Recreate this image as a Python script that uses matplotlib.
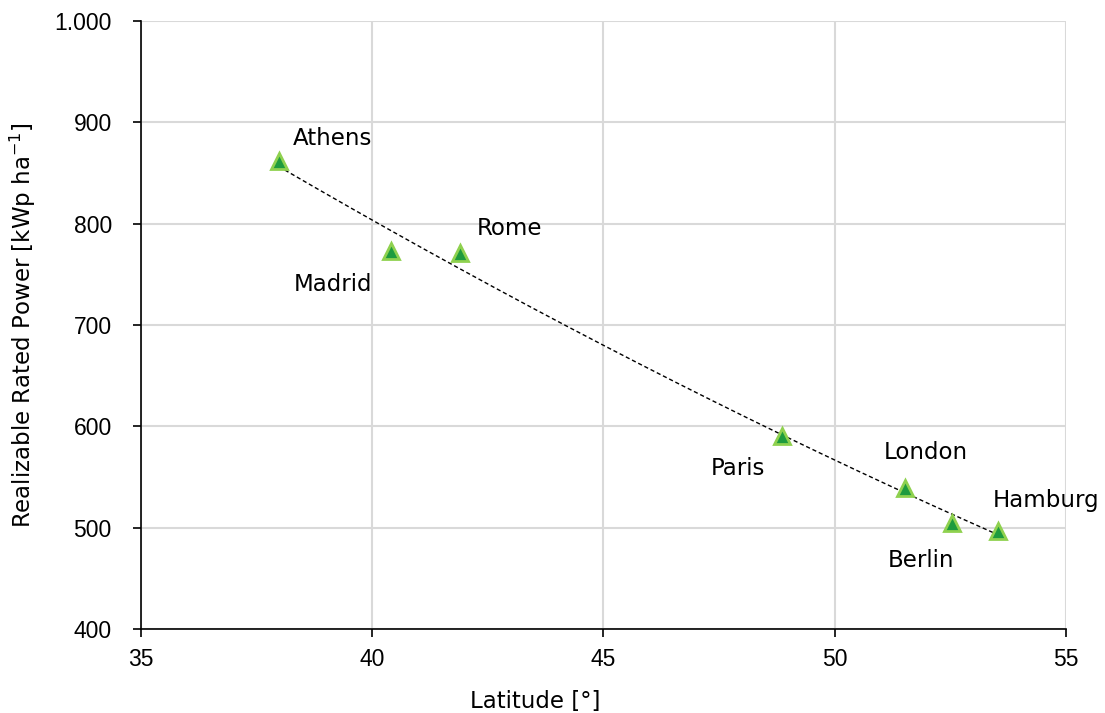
import matplotlib.pyplot as plt
import numpy as np
from matplotlib.ticker import FuncFormatter, MultipleLocator

plt.rcParams['font.family'] = ['Liberation Sans', 'DejaVu Sans']

cities = ["Athens", "Madrid", "Rome", "Paris", "London", "Berlin", "Hamburg"]
latitude = [37.98, 40.41, 41.9, 48.86, 51.52, 52.54, 53.53]
rated_power = [862, 773, 771, 590, 539, 505, 497]

# label placement in pixels relative to each marker: (dx, dy, ha)
label_offsets = {
    "Athens": (14, 22, "left"),
    "Madrid": (-19, -33, "right"),
    "Rome": (17, 25, "left"),
    "Paris": (-17, -32, "right"),
    "London": (21, 36, "center"),
    "Berlin": (-31, -38, "center"),
    "Hamburg": (-5, 30, "left"),
}
word_font = ['DejaVu Sans']

fig = plt.figure(figsize=(11.05, 7.13), dpi=100)
ax = fig.add_axes([0.1276, 0.1178, 0.8371, 0.8527])

# polynomial trend line over the latitude range
coef = np.polyfit(latitude, rated_power, 2)
xs = np.linspace(min(latitude), max(latitude), 200)
ax.plot(xs, np.polyval(coef, xs), color="black", lw=1.0, ls=(0, (3, 2)), zorder=3)

ax.plot(latitude, rated_power, ls="none", marker="^", ms=11.5,
        markerfacecolor="#1e9b3e", markeredgecolor="#8fd14f", mew=2.0, zorder=4)

for name, x, y in zip(cities, latitude, rated_power):
    dx, dy, ha = label_offsets[name]
    ax.annotate(name, (x, y), xytext=(dx, dy), textcoords="offset pixels",
                ha=ha, va="center", fontsize=16.5, color="black", family=word_font)

ax.set_xlim(35, 55)
ax.set_ylim(400, 1000)
ax.xaxis.set_major_locator(MultipleLocator(5))
ax.yaxis.set_major_locator(MultipleLocator(100))
ax.yaxis.set_major_formatter(FuncFormatter(lambda v, p: f"{int(v):,}".replace(",", ".")))

ax.grid(True, color="#d9d9d9", lw=1.5)
ax.set_axisbelow(True)
for side in ("top", "right"):
    ax.spines[side].set_visible(False)
for side in ("left", "bottom"):
    ax.spines[side].set_linewidth(1.2)
ax.tick_params(direction="out", width=1.2, labelsize=16.5, colors="black")
ax.tick_params(axis="y", length=6, pad=15)
ax.tick_params(axis="x", length=5.5, pad=8)

ax.set_xlabel("Latitude [°]", fontsize=16.5, color="black", family=word_font)
ax.xaxis.set_label_coords(0.426, -0.100)
ax.set_ylabel(r"Realizable Rated Power [kWp ha$^{\mathregular{-1}}$]",
              fontsize=16.5, labelpad=12, color="black", family=word_font)

fig.savefig("out.png", dpi=100)
